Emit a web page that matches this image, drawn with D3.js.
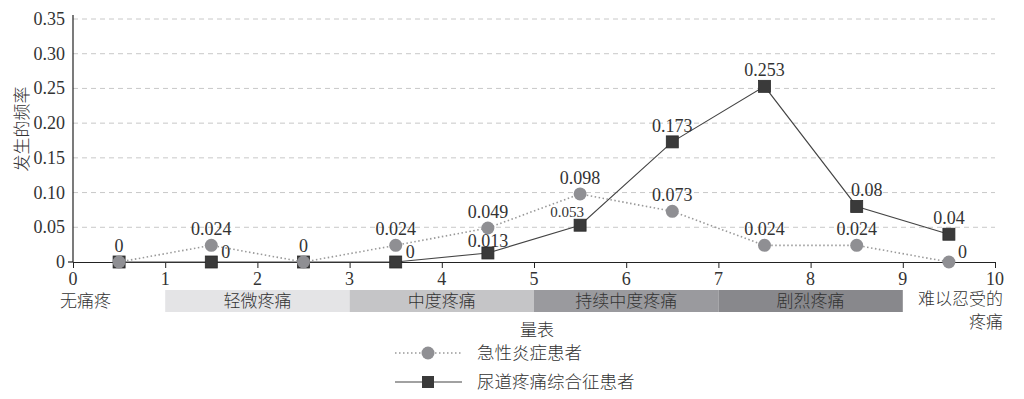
<!DOCTYPE html>
<html lang="zh">
<head>
<meta charset="UTF-8">
<title>发生的频率</title>
<style>
    body { margin: 0; background: #fff; }
</style>
<script src="https://d3js.org/d3.v7.min.js"></script>
</head>
<body>
<div id="chart"></div>
<script>
    // 数据
    const xPoints = [0.5, 1.5, 2.5, 3.5, 4.5, 5.5, 6.5, 7.5, 8.5, 9.5];
    const acute = [0, 0.024, 0, 0.024, 0.049, 0.098, 0.073, 0.024, 0.024, 0];       // 急性炎症患者
    const pain = [0, 0, 0, 0, 0.013, 0.053, 0.173, 0.253, 0.08, 0.04];               // 尿道疼痛综合征患者
    const yTicks = [0, 0.05, 0.10, 0.15, 0.20, 0.25, 0.30, 0.35];
    const xTicks = [0, 1, 2, 3, 4, 5, 6, 7, 8, 9, 10];
    const bands = [
        { from: 1, to: 3, name: "轻微疼痛" },
        { from: 3, to: 5, name: "中度疼痛" },
        { from: 5, to: 7, name: "持续中度疼痛" },
        { from: 7, to: 9, name: "剧烈疼痛" }
    ];
    const bandColors = ["#e4e4e6", "#c5c5c7", "#9a9a9e", "#88888c"];
    const seriesNames = ["急性炎症患者", "尿道疼痛综合征患者"];

    const NUM_FONT = "Liberation Serif";
    const CN_FONT = "Noto Sans CJK SC";
    const TXT = "#333";

    const W = 1024, H = 399;
    const x = d3.scaleLinear().domain([0, 10]).range([73, 995]);
    const y = d3.scaleLinear().domain([0, 0.35]).range([262, 19]);

    const svg = d3.select("#chart").append("svg")
        .attr("width", W).attr("height", H);

    // 网格线
    svg.append("g").selectAll("line")
        .data(yTicks.filter(d => d > 0))
        .join("line")
        .attr("x1", x(0)).attr("x2", x(10))
        .attr("y1", d => y(d)).attr("y2", d => y(d))
        .attr("stroke", "#c8c8c8")
        .attr("stroke-dasharray", "5,4");

    // y 轴（刻度文字自己画）
    svg.append("g").selectAll("text")
        .data(yTicks)
        .join("text")
        .attr("font-family", NUM_FONT).attr("font-size", 18).attr("fill", TXT)
        .attr("x", x(0) - 8).attr("y", d => y(d) + 6)
        .attr("text-anchor", "end")
        .text(d => d === 0 ? "0" : d3.format(".2f")(d));
    svg.append("line")
        .attr("x1", x(0)).attr("x2", x(0))
        .attr("y1", 15).attr("y2", y(0))
        .attr("stroke", "#222").attr("stroke-width", 1.2);
    svg.append("line")
        .attr("x1", x(0) - 5).attr("x2", x(0))
        .attr("y1", y(0)).attr("y2", y(0))
        .attr("stroke", "#222").attr("stroke-width", 1.2);

    // x 轴
    const xAxis = svg.append("g")
        .attr("transform", `translate(0,${y(0)})`)
        .call(d3.axisBottom(x).tickValues(xTicks).tickSize(6).tickSizeOuter(0).tickFormat(() => ""));
    xAxis.select(".domain").attr("stroke", "#222").attr("stroke-width", 1.2);
    xAxis.selectAll(".tick line").attr("stroke", "#222");
    svg.append("g").selectAll("text")
        .data(xTicks)
        .join("text")
        .attr("font-family", NUM_FONT).attr("font-size", 18).attr("fill", TXT)
        .attr("x", d => x(d)).attr("y", 285)
        .attr("text-anchor", "middle")
        .text(d => d);

    function cnText(sel, size) {
        return sel.attr("font-family", CN_FONT).attr("font-weight", 300)
            .attr("font-size", size).attr("fill", TXT);
    }

    cnText(svg.append("text"), 17)
        .attr("transform", `translate(28,${129}) rotate(-90)`)
        .attr("text-anchor", "middle")
        .text("发生的频率");

    // 疼痛分级色带
    svg.append("g").selectAll("rect")
        .data(bands)
        .join("rect")
        .attr("x", d => x(d.from)).attr("width", d => x(d.to) - x(d.from))
        .attr("y", 290).attr("height", 22)
        .attr("fill", (d, i) => bandColors[i]);
    cnText(svg.append("g").selectAll("text")
        .data(bands)
        .join("text"), 17)
        .attr("x", d => x((d.from + d.to) / 2))
        .attr("y", 307)
        .attr("text-anchor", "middle")
        .text(d => d.name);
    cnText(svg.append("text"), 17).attr("x", 60).attr("y", 307).text("无痛疼");
    cnText(svg.append("text"), 17).attr("x", 1003).attr("y", 305)
        .attr("text-anchor", "end").text("难以忍受的");
    cnText(svg.append("text"), 17).attr("x", 1003).attr("y", 328)
        .attr("text-anchor", "end").text("疼痛");

    // 折线
    const line = d3.line().x(d => x(d[0])).y(d => y(d[1]));
    svg.append("path")
        .datum(xPoints.map((d, i) => [d, pain[i]]))
        .attr("d", line)
        .attr("fill", "none").attr("stroke", "#444").attr("stroke-width", 1.1);
    svg.append("path")
        .datum(xPoints.map((d, i) => [d, acute[i]]))
        .attr("d", line)
        .attr("fill", "none").attr("stroke", "#999")
        .attr("stroke-width", 1.6).attr("stroke-dasharray", "1.5,2.5");

    svg.append("g").selectAll("rect")
        .data(xPoints.map((d, i) => [d, pain[i]]))
        .join("rect")
        .attr("x", d => x(d[0]) - 6).attr("y", d => y(d[1]) - 6)
        .attr("width", 12).attr("height", 12)
        .attr("fill", "#3a3a3a").attr("stroke", "#2a2a2a").attr("stroke-width", 0.8);
    svg.append("g").selectAll("circle")
        .data(xPoints.map((d, i) => [d, acute[i]]))
        .join("circle")
        .attr("cx", d => x(d[0])).attr("cy", d => y(d[1]))
        .attr("r", 6.5)
        .attr("fill", "#8f8f93");

    // 数据标签
    const fmt = v => v === 0 ? "0" : String(v);
    svg.append("g").selectAll("text")
        .data(xPoints.map((d, i) => [d, acute[i], i]))
        .join("text")
        .attr("font-family", NUM_FONT).attr("font-size", 18).attr("fill", TXT)
        .attr("x", d => d[2] === 9 ? x(d[0]) + 9 : x(d[0]))
        .attr("y", d => d[2] === 9 ? y(d[1]) - 4 : y(d[1]) - 10)
        .attr("text-anchor", d => d[2] === 9 ? "start" : "middle")
        .text(d => fmt(d[1]));
    svg.append("g").selectAll("text")
        .data(xPoints.map((d, i) => [d, pain[i], i]).filter(d => d[2] !== 0 && d[2] !== 2))
        .join("text")
        .attr("font-family", NUM_FONT)
        .attr("font-size", d => d[2] === 5 ? 15 : 18)
        .attr("fill", TXT)
        .attr("x", d => {
            if (d[2] === 1 || d[2] === 3) return x(d[0]) + 10;
            if (d[2] === 5) return x(d[0]) - 13;
            if (d[2] === 8) return x(d[0]) + 10;
            return x(d[0]);
        })
        .attr("y", d => {
            if (d[2] === 1 || d[2] === 3) return y(d[1]) - 4;
            if (d[2] === 4) return y(d[1]) - 6;
            if (d[2] === 5) return y(d[1]) - 8;
            return y(d[1]) - 10;
        })
        .attr("text-anchor", d => (d[2] === 1 || d[2] === 3) ? "start" : "middle")
        .text(d => fmt(d[1]));

    // 图例
    cnText(svg.append("text"), 17).attr("x", 537).attr("y", 336)
        .attr("text-anchor", "middle").text("量表");
    const legend = svg.append("g");
    legend.append("line").attr("x1", 395).attr("x2", 462).attr("y1", 353).attr("y2", 353)
        .attr("stroke", "#999").attr("stroke-width", 1.6).attr("stroke-dasharray", "1.5,2.5");
    legend.append("circle").attr("cx", 428).attr("cy", 353).attr("r", 6.5).attr("fill", "#8f8f93");
    legend.append("line").attr("x1", 395).attr("x2", 462).attr("y1", 382).attr("y2", 382)
        .attr("stroke", "#444").attr("stroke-width", 1.1);
    legend.append("rect").attr("x", 422).attr("y", 376).attr("width", 12).attr("height", 12)
        .attr("fill", "#3a3a3a");
    cnText(legend.selectAll("text.lg")
        .data(seriesNames)
        .join("text"), 17.5)
        .attr("x", 477).attr("y", (d, i) => 359 + i * 29)
        .text(d => d);
</script>
</body>
</html>
